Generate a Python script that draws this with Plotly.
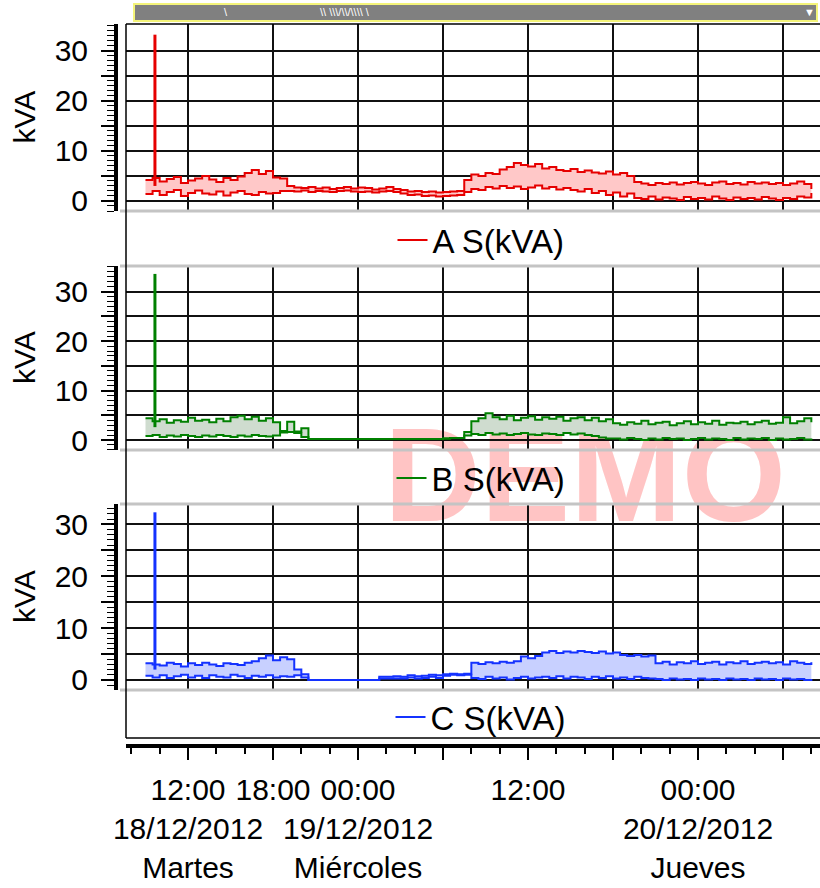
import pandas as pd
import plotly.graph_objects as go

# ---------------- data ----------------
START = "2012-12-18 09:00"
N_POINTS = 95
times = pd.date_range(START, periods=N_POINTS, freq="30min").strftime("%Y-%m-%d %H:%M").tolist()

a_hi = [4.2, 4.6, 3.9, 4.4, 4.8, 3.6, 4.1, 4.5, 5.0, 4.3, 3.8, 4.6, 4.2, 4.9, 5.6, 6.2, 5.4, 6.0, 4.7, 4.5,
        3.0, 2.7, 2.6, 2.8, 2.5, 2.7, 2.4, 2.6, 2.8, 2.5, 2.7, 2.6, 2.3, 2.5, 2.8, 2.4, 2.2, 1.9, 2.0, 1.8, 1.9, 1.7, 1.8, 1.9, 2.0,
        4.2, 5.3, 5.0, 5.6, 5.4, 6.3, 6.8, 7.6, 7.2, 6.9, 7.4, 6.5, 6.8, 6.2, 6.0, 6.4, 5.8, 6.1, 5.7, 5.5, 5.9, 5.3, 5.6, 5.0,
        3.8, 3.5, 3.2, 3.6, 3.4, 3.7, 3.3, 3.6, 3.8, 3.5, 3.2, 3.7, 3.9, 3.4, 3.6, 3.3, 3.8, 3.5, 3.7, 3.4, 3.6, 3.2, 3.5, 3.9, 3.4, 2.4]
a_lo = [1.4, 2.0, 1.2, 1.8, 2.2, 1.0, 1.6, 2.1, 1.5, 1.3, 1.9, 1.1, 1.7, 2.0, 1.4, 1.2, 1.8, 1.5, 1.6, 2.0,
        2.0, 1.9, 2.1, 1.8, 2.0, 1.9, 1.8, 2.0, 2.1, 1.9, 1.8, 1.9, 1.7, 1.9, 2.0, 1.8, 1.5, 1.2, 1.3, 1.0, 1.1, 0.9, 1.0, 1.1, 1.2,
        1.8, 2.4, 2.2, 2.8, 2.5, 3.0, 2.6, 2.9, 2.4, 2.7, 3.1, 2.5, 2.8, 2.3, 2.6, 2.2, 1.9, 2.4, 1.6, 2.0, 1.2, 1.7, 0.9, 1.5,
        0.6, 0.4, 0.9, 0.3, 0.7, 0.5, 0.2, 0.8, 0.4, 0.6, 0.3, 0.9, 0.5, 0.2, 0.7, 0.4, 0.6, 0.3, 0.8, 0.5, 0.2, 0.6, 0.4, 0.9, 0.7, 1.6]

b_hi = [4.4, 3.8, 4.2, 3.5, 4.0, 3.7, 4.5, 3.9, 4.1, 3.6, 4.3, 3.8, 4.6, 4.9, 4.2, 4.7, 3.9, 4.4, 3.6,
        1.8, 3.7, 1.7, 2.4,
        0.2, 0.2, 0.2, 0.2, 0.2, 0.2, 0.2, 0.2, 0.2, 0.2, 0.2, 0.2, 0.2, 0.2, 0.2, 0.2, 0.2, 0.2, 0.2, 0.3, 0.4, 0.4,
        1.6, 3.8, 4.4, 5.4, 4.6, 4.2, 4.9, 4.0, 4.5, 4.8, 4.1, 4.6, 4.3, 4.7, 3.9, 4.4, 4.6, 4.0, 4.5, 3.8, 4.2,
        3.4, 3.1, 3.6, 3.3, 3.9, 3.2, 3.5, 3.7, 3.0, 3.4, 3.8, 3.2, 3.6, 3.3, 3.9, 3.1, 3.5, 3.4, 3.7, 3.2, 3.6, 3.9, 3.3, 3.5, 4.6, 3.4, 3.8, 4.4, 3.6]
b_lo = [0.8, 1.0, 0.6, 0.9, 0.7, 1.0, 0.8, 0.6, 0.9, 0.7, 1.0, 0.8, 0.6, 0.9, 0.7, 1.0, 0.8, 0.7, 0.9,
        1.5, 1.6, 1.4, 0.6,
        0.2, 0.2, 0.2, 0.2, 0.2, 0.2, 0.2, 0.2, 0.2, 0.2, 0.2, 0.2, 0.2, 0.2, 0.2, 0.2, 0.2, 0.2, 0.2, 0.3, 0.4, 0.4,
        0.9, 1.2, 1.0, 1.4, 1.1, 1.3, 1.0, 1.2, 1.4, 1.1, 1.0, 1.3, 1.2, 1.0, 1.4, 1.1, 1.3, 1.0, 0.8, 0.5, 0.3,
        0.3, 0.1, 0.4, 0.2, 0.0, 0.3, 0.1, 0.4, 0.2, 0.3, 0.0, 0.2, 0.4, 0.1, 0.3, 0.2, 0.0, 0.4, 0.1, 0.3, 0.2, 0.4, 0.0, 0.3, 0.1, 0.2, 0.4, 0.1, 0.3]

c_hi = [3.2, 3.0, 2.8, 3.3, 3.1, 2.6, 3.2, 2.9, 3.3, 3.0, 2.7, 3.2, 3.1, 2.9, 3.3, 3.6, 4.2, 4.7, 3.8, 4.4,
        4.0, 2.0, 1.1,
        0.0, 0.0, 0.0, 0.0, 0.0, 0.0, 0.0, 0.0, 0.0, 0.0,
        0.6, 0.6, 0.7, 0.6, 0.9, 0.7, 0.8, 1.0, 0.9, 1.1, 1.2, 1.1, 1.2,
        3.3, 3.1, 3.4, 3.2, 3.5, 3.3, 3.6,
        4.5, 4.2, 4.6,
        5.3, 5.6, 5.2, 5.5, 5.3, 5.6, 5.4, 5.2, 5.5, 5.1, 5.3,
        4.8, 4.6, 4.8, 4.5, 4.7,
        3.2, 3.5, 3.0, 3.4, 3.2, 3.6, 3.1, 3.3, 3.5, 3.0, 3.4, 3.2, 3.6, 3.1, 3.3, 3.5, 3.2, 3.4, 3.0, 3.6, 3.3, 3.1, 3.4]
c_lo = [0.8, 0.5, 0.9, 0.4, 0.7, 1.0, 0.5, 0.8, 0.4, 0.9, 0.6, 0.5, 1.0, 0.7, 0.4, 0.8, 0.6, 0.9, 0.5, 0.7,
        0.6, 0.9, 0.5,
        0.0, 0.0, 0.0, 0.0, 0.0, 0.0, 0.0, 0.0, 0.0, 0.0,
        0.3, 0.3, 0.3, 0.3, 0.5, 0.3, 0.4, 0.6, 0.4, 0.8, 1.0, 0.9, 1.0,
        0.4, 0.2, 0.6, 0.3, 0.5, 0.1, 0.4,
        0.6, 0.3, 0.5,
        0.6, 0.4, 0.7, 0.3, 0.6, 0.5, 0.2, 0.6, 0.4, 0.7, 0.3,
        0.5, 0.2, 0.6, 0.4, 0.3,
        0.2, 0.0, 0.3, 0.1, 0.2, 0.0, 0.3, 0.1, 0.2, 0.0, 0.3, 0.1, 0.2, 0.0, 0.3, 0.1, 0.2, 0.0, 0.3, 0.1, 0.2, 0.0, 0.2]

spike_time = "2012-12-18 09:40"
spike_base = [3.0, 2.6, 2.0]
spike_peak = [33.2, 33.6, 32.3]

series_names = ["A S(kVA)", "B S(kVA)", "C S(kVA)"]
series_hi = [a_hi, b_hi, c_hi]
series_lo = [a_lo, b_lo, c_lo]

x_tick_vals = ["2012-12-18 12:00", "2012-12-18 18:00", "2012-12-19 00:00", "2012-12-19 06:00",
               "2012-12-19 12:00", "2012-12-19 18:00", "2012-12-20 00:00", "2012-12-20 06:00"]
x_tick_text = ["12:00<br>18/12/2012<br>Martes", "18:00", "00:00<br>19/12/2012<br>Miércoles", "",
               "12:00", "", "00:00<br>20/12/2012<br>Jueves", ""]
y_tick_vals = [0, 5, 10, 15, 20, 25, 30]
y_tick_text = ["0", "", "10", "", "20", "", "30"]
y_title = "kVA"

# ---------------- styling / geometry ----------------
W, H = 820, 888
FONT = "Liberation Sans, Arial, sans-serif"
line_colors = ["#e60000", "#008000", "#1432ff"]
fill_colors = ["#ffc8c8", "#cfdccf", "#c8d0ff"]


def px(x):
    return x / W


def py(y):
    return 1 - y / H


panels = [
    dict(top=24, bot=211, yr=[-2.0, 35.33], leg=240),
    dict(top=266, bot=450, yr=[-2.02, 35.2], leg=478),
    dict(top=504, bot=690, yr=[-1.93, 33.9], leg=717),
]
X_RANGE = ["2012-12-18 07:37:25", "2012-12-20 08:36:40"]
PLOT_LEFT, AXIS_X, XAXIS_Y, FRAME_BOTTOM = 126, 116, 746, 738

fig = go.Figure()

for k in range(3):
    xr = "x" if k == 0 else f"x{k+1}"
    yr = "y" if k == 0 else f"y{k+1}"
    leg = "legend" if k == 0 else f"legend{k+1}"
    fig.add_trace(go.Scatter(x=times, y=series_lo[k], mode="lines", line=dict(color=line_colors[k], width=2, shape="hv"),
                             name=series_names[k], legend=leg, showlegend=True, xaxis=xr, yaxis=yr, hoverinfo="skip"))
    fig.add_trace(go.Scatter(x=times, y=series_hi[k], mode="lines", line=dict(color=line_colors[k], width=2, shape="hv"),
                             fill="tonexty", fillcolor=fill_colors[k], showlegend=False, xaxis=xr, yaxis=yr, hoverinfo="skip"))
    fig.add_trace(go.Scatter(x=[spike_time, spike_time], y=[spike_base[k], spike_peak[k]], mode="lines",
                             line=dict(color=line_colors[k], width=3), showlegend=False, xaxis=xr, yaxis=yr,
                             hoverinfo="skip"))

layout = dict(
    width=W, height=H, margin=dict(l=0, r=0, t=0, b=0, autoexpand=False),
    paper_bgcolor="white", plot_bgcolor="rgba(0,0,0,0)",
    font=dict(family=FONT, size=30, color="black"),
    showlegend=True,
)

for k, p in enumerate(panels):
    xn = "xaxis" if k == 0 else f"xaxis{k+1}"
    yn = "yaxis" if k == 0 else f"yaxis{k+1}"
    yref = "y" if k == 0 else f"y{k+1}"
    xax = dict(domain=[px(PLOT_LEFT), 1.0], range=X_RANGE, type="date", showgrid=True, gridcolor="#111111",
               gridwidth=1.6, zeroline=False, fixedrange=True, automargin=False)
    if k < 2:
        xax.update(anchor=yref, tickmode="linear", tick0="2012-12-18 00:00", dtick=6 * 3600 * 1000,
                   showticklabels=False, ticks="", showline=False)
    else:
        xax.update(anchor="free", position=py(XAXIS_Y), showline=True, linewidth=4, linecolor="black",
                   tickmode="array", tickvals=x_tick_vals, ticktext=x_tick_text, ticks="outside", ticklen=12,
                   tickwidth=1.5, tickcolor="black", tickfont=dict(size=30, family=FONT), ticklabelstandoff=4,
                   tickangle=0,
                   minor=dict(tickmode="linear", tick0="2012-12-18 00:00", dtick=2 * 3600 * 1000, ticks="outside",
                              ticklen=6, tickwidth=1.5, tickcolor="black", showgrid=False))
    layout[xn] = xax
    layout[yn] = dict(domain=[py(p["bot"]), py(p["top"])], range=p["yr"], anchor="free", position=px(AXIS_X),
                      side="left", showline=True, linewidth=4, linecolor="black", tickmode="array",
                      tickvals=y_tick_vals, ticktext=y_tick_text, ticks="outside", ticklen=13, tickwidth=1.5,
                      tickcolor="black", tickfont=dict(size=30, family=FONT), ticklabelstandoff=7,
                      showgrid=True, gridcolor="#111111", gridwidth=1.6, zeroline=False, fixedrange=True,
                      automargin=False, tickangle=0,
                      minor=dict(tickmode="linear", tick0=0, dtick=1, ticks="outside", ticklen=7, tickwidth=1,
                                 tickcolor="black", showgrid=False))
    legname = "legend" if k == 0 else f"legend{k+1}"
    layout[legname] = dict(x=px(481), y=py(p["leg"]), xanchor="center", yanchor="middle",
                           bgcolor="rgba(0,0,0,0)", font=dict(size=33, family=FONT, color="black"),
                           itemwidth=30, borderwidth=0)

shapes = []
# watermark
shapes.append(dict(type="rect", xref="paper", yref="paper", x0=px(380), x1=px(790), y0=py(535), y1=py(388),
                   line=dict(width=0), fillcolor="rgba(0,0,0,0)", layer="below",
                   label=dict(text="DEMO", textposition="middle center",
                              font=dict(size=134, color="#ffc4c4", family=FONT, weight="bold"))))
# grey separators
for yy in [211, 266, 450, 504, 690]:
    shapes.append(dict(type="line", xref="paper", yref="paper", x0=px(120), x1=1.0, y0=py(yy), y1=py(yy),
                       line=dict(color="#c4c4c4", width=3)))
# frame
shapes.append(dict(type="line", xref="paper", yref="paper", x0=px(PLOT_LEFT), x1=px(PLOT_LEFT), y0=py(24),
                   y1=py(FRAME_BOTTOM), line=dict(color="black", width=1.5)))
shapes.append(dict(type="line", xref="paper", yref="paper", x0=px(PLOT_LEFT), x1=1.0, y0=py(24), y1=py(24),
                   line=dict(color="black", width=1.5)))
shapes.append(dict(type="line", xref="paper", yref="paper", x0=px(PLOT_LEFT), x1=1.0, y0=py(FRAME_BOTTOM),
                   y1=py(FRAME_BOTTOM), line=dict(color="black", width=1.5)))
# scrollbar
shapes.append(dict(type="rect", xref="paper", yref="paper", x0=px(134), x1=px(817), y0=py(21), y1=py(4),
                   line=dict(color="#f4f47a", width=2), fillcolor="#808080"))
layout["shapes"] = shapes

annotations = []
for p in panels:
    annotations.append(dict(text=y_title, x=px(24), y=py((p["top"] + p["bot"]) / 2), xref="paper", yref="paper",
                            textangle=-90, showarrow=False, font=dict(size=30, family=FONT, color="black"),
                            xanchor="center", yanchor="middle"))
annotations.append(dict(text="▼", x=px(809), y=py(12.5), xref="paper", yref="paper", showarrow=False,
                        font=dict(size=11, color="white"), xanchor="center", yanchor="middle"))
annotations.append(dict(text="\\", x=px(226), y=py(12.5), xref="paper", yref="paper", showarrow=False,
                        font=dict(size=11, color="white"), xanchor="center", yanchor="middle"))
annotations.append(dict(text="\\\\ \\\\\\/\\\\/\\\\\\\\ \\", x=px(345), y=py(12.5), xref="paper", yref="paper",
                        showarrow=False, font=dict(size=11, color="white"), xanchor="center", yanchor="middle"))
layout["annotations"] = annotations

fig.update_layout(**layout)
fig.write_html("out.html", config={"displayModeBar": False},
               post_script="document.body.style.margin='0px';document.body.style.padding='0px';")
